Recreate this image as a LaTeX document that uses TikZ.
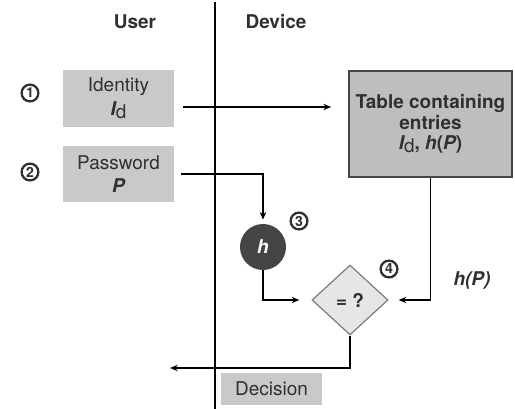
\documentclass[tikz,border=0pt]{standalone}
\usepackage{fontspec}
\setmainfont{TeX Gyre Heros}
\usetikzlibrary{arrows.meta,shapes.geometric}

\definecolor{boxgray}{HTML}{C9C9C9}
\definecolor{tablegray}{HTML}{BEBEBE}
\definecolor{textgray}{HTML}{303030}
\definecolor{hashgray}{HTML}{454545}
\definecolor{cmpgray}{HTML}{E6E6E6}

\newcommand{\idd}{{\bfseries\itshape I}\raisebox{-0.3ex}{\mdseries\upshape d}}

\begin{document}
\begin{tikzpicture}[x=0.025cm,y=-0.025cm,
    every node/.style={font=\fontsize{13.5}{16}\selectfont,text=textgray},
    greybox/.style={fill=boxgray,inner sep=0pt,align=center},
    stepnum/.style={circle,draw=textgray,line width=1.6pt,fill=white,
      minimum size=0.42cm,inner sep=0pt,font=\bfseries\fontsize{10}{10}\selectfont},
    arr/.style={-{Stealth[length=5.5pt,width=4.5pt]},line width=0.9pt}]
      \useasboundingbox (0,0) rectangle (515,409);



      \node[font=\bfseries\fontsize{13.5}{16}\selectfont] (user) at (135,22) {User};

      \node[font=\bfseries\fontsize{13.5}{16}\selectfont] (device) at (276,22) {Device};

      \coordinate (ltop) at (215,2);
      \coordinate (lbot) at (215,409);
      \draw[line width=0.9pt] (ltop) -- (lbot);



      \node[greybox,minimum width=2.775cm,minimum height=1.425cm] (ident) at (118.5,98.5)
        {Identity\\[1pt]\idd};

      \node[stepnum] (one) at (30,93) {1};

      \node[greybox,minimum width=2.775cm,minimum height=1.4cm] (pw) at (118.5,174)
        {Password\\{\bfseries\itshape P}};

      \node[stepnum] (two) at (30,172) {2};


      \node[greybox,fill=tablegray,draw=hashgray,line width=1.2pt,minimum width=4.075cm,
        minimum height=2.65cm,font=\bfseries\fontsize{13.5}{14.5}\selectfont] (table) at (430.5,124)
        {Table containing\\entries\\\idd, {\itshape h}({\itshape P})};


      \node[circle,fill=hashgray,minimum size=1.15cm,inner sep=0pt,text=white,
        font=\bfseries\itshape\fontsize{13.5}{16}\selectfont] (hash) at (263,247) {h};

      \node[stepnum] (three) at (299,221) {3};


      \node[diamond,fill=cmpgray,draw=gray,line width=0.9pt,minimum width=1.9cm,
        minimum height=1.75cm,inner sep=0pt,font=\bfseries\fontsize{13.5}{16}\selectfont] (cmp) at (350,300) {= ?};

      \node[stepnum] (four) at (389,269) {4};

      \node[font=\bfseries\fontsize{13.5}{16}\selectfont] (hp) at (472,280) {\itshape h(P)};


      \node[greybox,minimum width=2.525cm,minimum height=0.8cm] (decision) at (271.5,389) {Decision};



      \coordinate (idout) at (183,107);
      \draw[arr,shorten >=0.425cm] (idout) -- (idout -| table.west);

      \coordinate (pwout) at (181,174);
      \draw[arr,shorten >=0.1cm] (pwout) -| (hash.north);

      \draw[arr,shorten >=0.3cm] (hash.south) |- (cmp.west);

      \draw[arr,shorten >=0.25cm] (table.south) |- (cmp.east);

      \coordinate (out) at (170,368);
      \draw[arr] (cmp.south) |- (out);
    \end{tikzpicture}
\end{document}
